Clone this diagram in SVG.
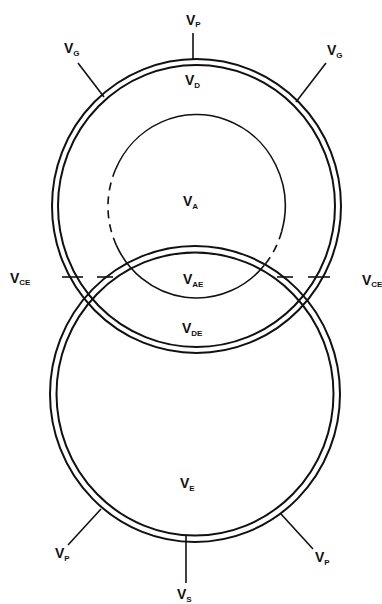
<svg xmlns="http://www.w3.org/2000/svg" width="382" height="604" viewBox="0 0 382 604">
<style>
.ring{fill:none;stroke:#111;stroke-width:2}
.thin{fill:none;stroke:#111;stroke-width:1.6}
.dash{fill:none;stroke:#111;stroke-width:1.6;stroke-dasharray:8 6}
.lead{stroke:#111;stroke-width:1.6;fill:none}
text{font-family:"Liberation Sans",Arial,sans-serif;font-weight:bold;font-size:14px;fill:#111}
.s{font-size:8px}
</style>
<rect width="382" height="604" fill="#fff"/>
<g id="top-vessel">
<ellipse class="ring" cx="196.5" cy="206" rx="144.5" ry="147"/>
<ellipse class="ring" cx="196.5" cy="206" rx="138.5" ry="141"/>
</g>
<g id="bottom-vessel">
<ellipse class="ring" cx="195" cy="394" rx="145" ry="148"/>
<ellipse class="ring" cx="195" cy="394" rx="138.5" ry="141.5"/>
</g>
<g id="inner-A">
<path class="thin" d="M115.3,170 A88.5,91.5 0 0 1 281.6,231.7"/>
<path class="thin" d="M264.3,265.3 A88.5,91.5 0 0 1 116.3,245.2"/>
<path class="dash" d="M116.3,245.2 A88.5,91.5 0 0 1 115.3,170"/>
<path class="dash" d="M281.6,231.7 A88.5,91.5 0 0 1 264.3,265.3"/>
</g>
<g id="connectors">
<line class="lead" x1="62" y1="277" x2="83" y2="277"/>
<line class="lead" x1="97" y1="277" x2="113" y2="277"/>
<line class="lead" x1="277" y1="277" x2="293" y2="277"/>
<line class="lead" x1="308" y1="277" x2="330" y2="277"/>
<line class="lead" x1="193" y1="33" x2="193" y2="59"/>
<line class="lead" x1="78" y1="63" x2="104" y2="97"/>
<line class="lead" x1="326" y1="63" x2="296" y2="102"/>
<line class="lead" x1="68" y1="545" x2="101" y2="509"/>
<line class="lead" x1="186" y1="536" x2="186" y2="583"/>
<line class="lead" x1="281" y1="514" x2="313" y2="549"/>
</g>
<g id="labels">
<text x="186" y="25">V<tspan class="s" dy="2">P</tspan></text>
<text x="64" y="53">V<tspan class="s" dy="3">G</tspan></text>
<text x="327" y="55">V<tspan class="s" dy="3">G</tspan></text>
<text x="185" y="85">V<tspan class="s" dy="3">D</tspan></text>
<text x="183" y="206">V<tspan class="s" dy="3">A</tspan></text>
<text x="183" y="284">V<tspan class="s" dy="3">AE</tspan></text>
<text x="10" y="283">V<tspan class="s" dy="2">CE</tspan></text>
<text x="362" y="285">V<tspan class="s" dy="2">CE</tspan></text>
<text x="182" y="333">V<tspan class="s" dy="3">DE</tspan></text>
<text x="180" y="488">V<tspan class="s" dy="3">E</tspan></text>
<text x="55" y="558">V<tspan class="s" dy="3">P</tspan></text>
<text x="177" y="599">V<tspan class="s" dy="3">S</tspan></text>
<text x="315" y="562">V<tspan class="s" dy="3">P</tspan></text>
</g>
</svg>
